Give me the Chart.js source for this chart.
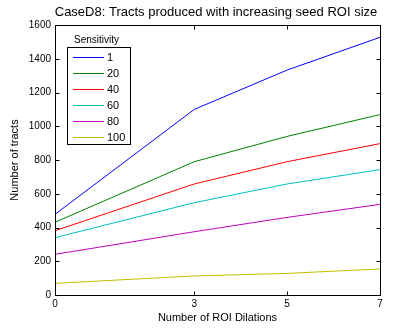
<!DOCTYPE html>
<html><head><meta charset="utf-8">
<script src="https://cdn.jsdelivr.net/npm/chart.js@4/dist/chart.umd.min.js"></script>
<style>html,body{margin:0;padding:0;background:#fff}#wrap{width:420px;height:332px}</style>
</head><body><div id="wrap"><canvas id="c" width="420" height="332"></canvas></div>
<script>
const dilations = [0, 3, 5, 7];
const xTicks = [0, 3, 5, 7];
const yTicks = [0, 200, 400, 600, 800, 1000, 1200, 1400, 1600];
const sensitivityLabels = ['1', '20', '40', '60', '80', '100'];
const sens1 = [478, 1100, 1333, 1527];
const sens20 = [431, 790, 940, 1069];
const sens40 = [381, 658, 790, 897];
const sens60 = [340, 547, 658, 743];
const sens80 = [241, 375, 460, 537];
const sens100 = [69, 113, 128, 154];
const seriesValues = [sens1, sens20, sens40, sens60, sens80, sens100];
const colors = ['#0000ff', '#008000', '#ff0000', '#00bfbf', '#bf00bf', '#bfbf00'];
const FONT = '"Liberation Sans", Arial, Helvetica, sans-serif';

const datasets = seriesValues.map((vals, i) => ({
  label: sensitivityLabels[i],
  data: vals.map((v, j) => ({x: dilations[j], y: v})),
  borderColor: colors[i],
  backgroundColor: colors[i],
  borderWidth: 1,
  pointRadius: 0,
  tension: 0,
  fill: false
}));

const decor = {
  id: 'decor',
  afterDraw(chart) {
    const ctx = chart.ctx;
    const a = chart.chartArea;
    const xs = chart.scales.x, ys = chart.scales.y;
    ctx.save();
    ctx.strokeStyle = '#000';
    ctx.lineWidth = 1;
    const L = Math.round(a.left) + 0.5, R = Math.round(a.right) + 0.5;
    const T = Math.round(a.top) + 0.5, B = Math.round(a.bottom) + 0.5;
    ctx.strokeRect(L, T, R - L, B - T);
    ctx.beginPath();
    xTicks.forEach(v => {
      const px = Math.round(xs.getPixelForValue(v)) + 0.5;
      ctx.moveTo(px, B); ctx.lineTo(px, B - 4);
      ctx.moveTo(px, T); ctx.lineTo(px, T + 4);
    });
    yTicks.forEach(v => {
      const py = Math.round(ys.getPixelForValue(v)) + 0.5;
      ctx.moveTo(L, py); ctx.lineTo(L + 4, py);
      ctx.moveTo(R, py); ctx.lineTo(R - 4, py);
    });
    ctx.stroke();
    // title
    ctx.fillStyle = '#000';
    ctx.font = '13px ' + FONT;
    ctx.textAlign = 'center';
    ctx.textBaseline = 'middle';
    ctx.fillText('CaseD8: Tracts produced with increasing seed ROI size', 216, 12);
    // legend
    ctx.font = '10px ' + FONT;
    ctx.textAlign = 'left';
    ctx.fillText('Sensitivity', 74, 40);
    ctx.fillStyle = '#fff';
    ctx.fillRect(67.5, 47.5, 63, 97);
    ctx.strokeStyle = '#000';
    ctx.strokeRect(67.5, 47.5, 63, 97);
    ctx.font = '11px ' + FONT;
    sensitivityLabels.forEach((lab, i) => {
      const y = Math.round(57.3 + i * 15.9);
      ctx.fillStyle = colors[i];
      ctx.fillRect(73, y, 31, 1);
      ctx.fillStyle = '#000';
      ctx.fillText(lab, 107, y + 0.5);
    });
    ctx.restore();
  }
};

new Chart(document.getElementById('c'), {
  type: 'line',
  data: { datasets },
  options: {
    responsive: false,
    animation: false,
    layout: { padding: { top: 25, right: 40, left: 0, bottom: 0 } },
    plugins: { legend: { display: false }, tooltip: { enabled: false }, title: { display: false } },
    scales: {
      x: {
        type: 'linear', min: 0, max: 7,
        afterBuildTicks: s => { s.ticks = xTicks.map(v => ({value: v})); },
        afterFit: s => { s.height = 37; },
        grid: { display: false, drawTicks: false },
        border: { display: false },
        ticks: { color: '#000', font: { family: FONT, size: 10 }, padding: 3, maxRotation: 0, autoSkip: false, callback: v => String(v) },
        title: { display: true, text: 'Number of ROI Dilations', color: '#000', font: { family: FONT, size: 11 }, padding: { top: 0, bottom: 7 } }
      },
      y: {
        min: 0, max: 1600,
        afterBuildTicks: s => { s.ticks = yTicks.map(v => ({value: v})); },
        afterFit: s => { s.width = 55; },
        grid: { display: false, drawTicks: false },
        border: { display: false },
        ticks: { color: '#000', font: { family: FONT, size: 10 }, padding: 4, autoSkip: false, callback: v => String(v) },
        title: { display: true, text: 'Number of tracts', color: '#000', font: { family: FONT, size: 11 }, padding: { top: 8, bottom: 0 } }
      }
    }
  },
  plugins: [decor]
});
</script></body></html>
